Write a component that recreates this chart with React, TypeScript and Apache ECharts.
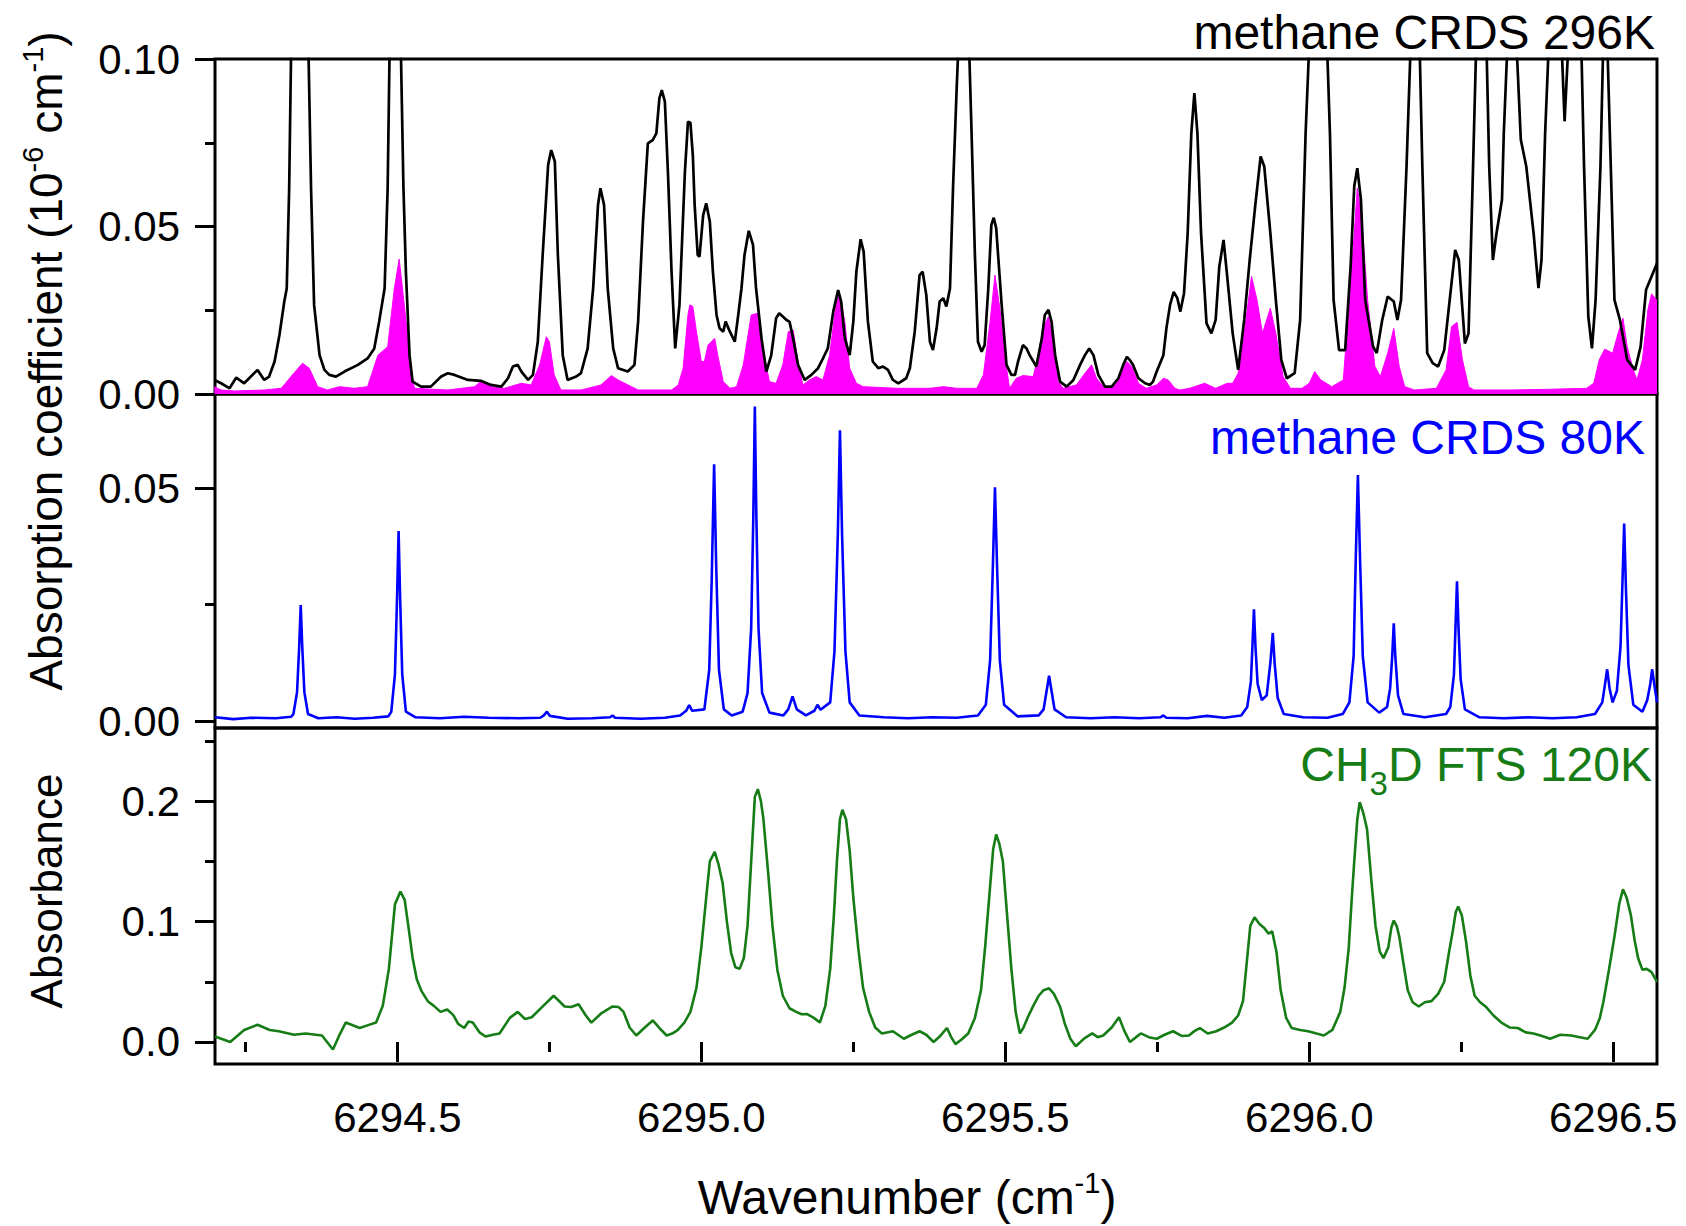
import { useEffect, useRef } from 'react'
import * as echarts from 'echarts'

const FONT = '"Liberation Sans", Arial, Helvetica, sans-serif'

// wavenumber axis (cm-1)
const X_MIN = 6294.2
const X_MAX = 6296.572
const xMajor = [6294.5, 6295.0, 6295.5, 6296.0, 6296.5]
const xMinor = [6294.25, 6294.75, 6295.25, 6295.75, 6296.25]

// y tick values per panel
const topMajor = [0, 0.05, 0.1]
const topMinor = [0.025, 0.075]
const midMajor = [0, 0.05]
const midMinor = [0.025]
const botMajor = [0, 0.1, 0.2]
const botMinor = [0.05, 0.15, 0.25]

// methane CRDS 296K (black), [wavenumber, 1e-6 cm-1]; peaks above 0.1 run off scale
const crds296: [number, number][] = [
  [6294.199, 0.0042], [6294.21, 0.0032], [6294.224, 0.0017], [6294.235, 0.0049], [6294.248, 0.0032],
  [6294.27, 0.0072], [6294.281, 0.0042], [6294.289, 0.0052], [6294.298, 0.0097], [6294.306, 0.0176],
  [6294.314, 0.0276], [6294.318, 0.0315], [6294.322, 0.0614], [6294.325, 0.1], [6294.339, 0.26],
  [6294.354, 0.1], [6294.358, 0.0614], [6294.363, 0.0266], [6294.372, 0.0116], [6294.38, 0.0072],
  [6294.388, 0.0057], [6294.399, 0.0052], [6294.413, 0.0067], [6294.435, 0.0087], [6294.451, 0.0106],
  [6294.462, 0.0136], [6294.47, 0.0216], [6294.479, 0.0315], [6294.484, 0.0614], [6294.487, 0.1],
  [6294.497, 0.3], [6294.506, 0.1], [6294.51, 0.0614], [6294.514, 0.0365], [6294.52, 0.0116],
  [6294.525, 0.0037], [6294.539, 0.0022], [6294.555, 0.0022], [6294.572, 0.0052], [6294.583, 0.0062],
  [6294.594, 0.0057], [6294.616, 0.0042], [6294.638, 0.0039], [6294.654, 0.0027], [6294.671, 0.0022],
  [6294.682, 0.0047], [6294.69, 0.0082], [6294.698, 0.0087], [6294.704, 0.0067], [6294.715, 0.0042],
  [6294.723, 0.0057], [6294.731, 0.0156], [6294.739, 0.0415], [6294.748, 0.0684], [6294.753, 0.0728],
  [6294.759, 0.0694], [6294.764, 0.0415], [6294.772, 0.0116], [6294.78, 0.0042], [6294.794, 0.0052],
  [6294.802, 0.0062], [6294.813, 0.0136], [6294.822, 0.0315], [6294.83, 0.0564], [6294.834, 0.0614],
  [6294.84, 0.0564], [6294.846, 0.0315], [6294.855, 0.0136], [6294.863, 0.0077], [6294.879, 0.0067],
  [6294.89, 0.0087], [6294.896, 0.0216], [6294.904, 0.0514], [6294.912, 0.0748], [6294.92, 0.0758],
  [6294.926, 0.0778], [6294.931, 0.0883], [6294.935, 0.0907], [6294.94, 0.0873], [6294.945, 0.0664],
  [6294.951, 0.0365], [6294.957, 0.0136], [6294.964, 0.0266], [6294.973, 0.0664], [6294.978, 0.0813],
  [6294.982, 0.081], [6294.986, 0.0713], [6294.989, 0.0564], [6294.994, 0.0415], [6294.997, 0.041],
  [6295.003, 0.0534], [6295.008, 0.0569], [6295.014, 0.0514], [6295.019, 0.0365], [6295.025, 0.0236],
  [6295.03, 0.0196], [6295.036, 0.0186], [6295.04, 0.0216], [6295.047, 0.0186], [6295.055, 0.0156],
  [6295.06, 0.0226], [6295.066, 0.0315], [6295.071, 0.0415], [6295.078, 0.0487], [6295.085, 0.0445],
  [6295.09, 0.0315], [6295.099, 0.0166], [6295.107, 0.0067], [6295.115, 0.0116], [6295.123, 0.0226],
  [6295.128, 0.0241], [6295.134, 0.0231], [6295.14, 0.0221], [6295.145, 0.0216], [6295.151, 0.0166],
  [6295.159, 0.0087], [6295.17, 0.0042], [6295.181, 0.0057], [6295.192, 0.0077], [6295.2, 0.0106],
  [6295.208, 0.0136], [6295.217, 0.0246], [6295.225, 0.031], [6295.23, 0.0276], [6295.236, 0.0166],
  [6295.244, 0.0116], [6295.25, 0.0216], [6295.255, 0.0365], [6295.262, 0.0462], [6295.267, 0.0425],
  [6295.274, 0.0216], [6295.282, 0.0097], [6295.291, 0.0077], [6295.299, 0.0082], [6295.307, 0.0072],
  [6295.315, 0.0042], [6295.324, 0.0032], [6295.337, 0.0047], [6295.343, 0.0077], [6295.351, 0.0186],
  [6295.359, 0.0355], [6295.364, 0.0365], [6295.37, 0.0296], [6295.376, 0.0156], [6295.381, 0.0131],
  [6295.387, 0.0196], [6295.392, 0.0276], [6295.398, 0.0286], [6295.403, 0.0261], [6295.409, 0.0315],
  [6295.414, 0.0614], [6295.42, 0.0912], [6295.422, 0.1], [6295.431, 0.22], [6295.441, 0.1],
  [6295.444, 0.0813], [6295.45, 0.0415], [6295.455, 0.0156], [6295.461, 0.0126], [6295.466, 0.0146],
  [6295.472, 0.0315], [6295.477, 0.0504], [6295.481, 0.0526], [6295.485, 0.0495], [6295.494, 0.0266],
  [6295.502, 0.0087], [6295.51, 0.0057], [6295.516, 0.0057], [6295.521, 0.0097], [6295.529, 0.0146],
  [6295.535, 0.0136], [6295.54, 0.0116], [6295.551, 0.0082], [6295.56, 0.0166], [6295.565, 0.0236],
  [6295.571, 0.0251], [6295.576, 0.0216], [6295.582, 0.0116], [6295.59, 0.0037], [6295.601, 0.0022],
  [6295.612, 0.0042], [6295.623, 0.0087], [6295.631, 0.0116], [6295.638, 0.0136], [6295.645, 0.0116],
  [6295.653, 0.0057], [6295.664, 0.0022], [6295.675, 0.0022], [6295.686, 0.0047], [6295.694, 0.0087],
  [6295.7, 0.0111], [6295.705, 0.0101], [6295.71, 0.0087], [6295.719, 0.0047], [6295.73, 0.0032],
  [6295.738, 0.0027], [6295.743, 0.0037], [6295.749, 0.0067], [6295.76, 0.0116], [6295.765, 0.0196],
  [6295.771, 0.0266], [6295.777, 0.0305], [6295.783, 0.0286], [6295.788, 0.0246], [6295.794, 0.0301],
  [6295.8, 0.048], [6295.806, 0.0779], [6295.811, 0.0898], [6295.816, 0.0779], [6295.822, 0.048],
  [6295.831, 0.0211], [6295.839, 0.0181], [6295.846, 0.0221], [6295.852, 0.038], [6295.859, 0.046],
  [6295.865, 0.0351], [6295.874, 0.0181], [6295.883, 0.0072], [6295.893, 0.0221], [6295.902, 0.04],
  [6295.911, 0.056], [6295.92, 0.0709], [6295.926, 0.0679], [6295.936, 0.048], [6295.945, 0.0281],
  [6295.954, 0.0102], [6295.963, 0.0047], [6295.976, 0.0062], [6295.985, 0.0221], [6295.994, 0.0779],
  [6295.999, 0.1], [6296.014, 0.3], [6296.03, 0.1], [6296.034, 0.0779], [6296.04, 0.0281],
  [6296.049, 0.0131], [6296.059, 0.0131], [6296.068, 0.038], [6296.074, 0.062], [6296.079, 0.0674],
  [6296.085, 0.058], [6296.092, 0.0281], [6296.105, 0.0141], [6296.111, 0.0122], [6296.12, 0.0221],
  [6296.129, 0.0291], [6296.139, 0.0276], [6296.145, 0.0221], [6296.151, 0.0281], [6296.16, 0.0679],
  [6296.166, 0.1], [6296.174, 0.16], [6296.182, 0.1], [6296.186, 0.0679], [6296.194, 0.0122],
  [6296.203, 0.0092], [6296.212, 0.0082], [6296.222, 0.0131], [6296.231, 0.0281], [6296.24, 0.043],
  [6296.246, 0.04], [6296.256, 0.0151], [6296.262, 0.0181], [6296.268, 0.058], [6296.274, 0.1],
  [6296.283, 0.2], [6296.292, 0.1], [6296.296, 0.0679], [6296.302, 0.04], [6296.308, 0.048],
  [6296.317, 0.058], [6296.32, 0.0779], [6296.325, 0.1], [6296.333, 0.2], [6296.342, 0.1],
  [6296.348, 0.0759], [6296.357, 0.0679], [6296.369, 0.048], [6296.377, 0.0316], [6296.382, 0.04],
  [6296.388, 0.0779], [6296.393, 0.1], [6296.404, 0.18], [6296.416, 0.1], [6296.42, 0.0814],
  [6296.425, 0.1], [6296.436, 0.2], [6296.448, 0.1], [6296.452, 0.0679], [6296.459, 0.0231],
  [6296.465, 0.0136], [6296.471, 0.0281], [6296.479, 0.0679], [6296.483, 0.1], [6296.487, 0.13],
  [6296.491, 0.1], [6296.496, 0.0679], [6296.502, 0.0281], [6296.511, 0.0221], [6296.523, 0.0102],
  [6296.536, 0.0072], [6296.545, 0.0141], [6296.554, 0.0311], [6296.563, 0.0351], [6296.572, 0.039],
]

// filled magenta spectrum in the top panel
const magenta296: [number, number][] = [
  [6294.199, 0.0022], [6294.21, 0.0012], [6294.232, 0.0009], [6294.281, 0.0012], [6294.309, 0.0017],
  [6294.325, 0.0052], [6294.344, 0.0092], [6294.355, 0.0077], [6294.369, 0.0022], [6294.385, 0.0012],
  [6294.405, 0.0022], [6294.429, 0.0017], [6294.451, 0.0022], [6294.468, 0.0116], [6294.484, 0.0141],
  [6294.495, 0.0315], [6294.503, 0.0403], [6294.512, 0.0256], [6294.523, 0.0067], [6294.528, 0.0017],
  [6294.583, 0.0012], [6294.627, 0.0022], [6294.638, 0.0039], [6294.654, 0.0022], [6294.676, 0.0017],
  [6294.704, 0.0032], [6294.72, 0.0027], [6294.734, 0.0087], [6294.745, 0.0171], [6294.75, 0.0156],
  [6294.758, 0.0057], [6294.769, 0.0012], [6294.802, 0.0012], [6294.835, 0.0027], [6294.852, 0.0055],
  [6294.863, 0.0042], [6294.885, 0.0022], [6294.896, 0.0012], [6294.951, 0.0012], [6294.962, 0.0027],
  [6294.97, 0.0077], [6294.978, 0.0236], [6294.981, 0.0266], [6294.986, 0.0261], [6294.992, 0.0186],
  [6295.0, 0.0097], [6295.005, 0.0097], [6295.011, 0.0146], [6295.022, 0.0166], [6295.027, 0.0116],
  [6295.036, 0.0037], [6295.047, 0.0017], [6295.058, 0.0022], [6295.069, 0.0087], [6295.082, 0.0236],
  [6295.093, 0.0241], [6295.101, 0.0136], [6295.112, 0.0037], [6295.123, 0.0032], [6295.134, 0.0087],
  [6295.143, 0.0186], [6295.151, 0.0191], [6295.159, 0.0097], [6295.167, 0.0027], [6295.178, 0.0042],
  [6295.189, 0.0052], [6295.2, 0.0042], [6295.211, 0.0116], [6295.222, 0.0276], [6295.228, 0.0296],
  [6295.236, 0.0216], [6295.244, 0.0077], [6295.255, 0.0032], [6295.266, 0.0022], [6295.321, 0.0017],
  [6295.376, 0.0017], [6295.398, 0.0022], [6295.42, 0.0017], [6295.453, 0.0017], [6295.464, 0.0057],
  [6295.475, 0.0216], [6295.483, 0.0355], [6295.491, 0.0256], [6295.499, 0.0116], [6295.507, 0.0017],
  [6295.518, 0.0047], [6295.529, 0.0055], [6295.546, 0.0052], [6295.554, 0.0116], [6295.562, 0.0196],
  [6295.571, 0.0231], [6295.579, 0.0156], [6295.587, 0.0037], [6295.595, 0.0017], [6295.617, 0.0027],
  [6295.631, 0.0062], [6295.642, 0.0087], [6295.65, 0.0047], [6295.661, 0.0022], [6295.672, 0.0017],
  [6295.683, 0.0032], [6295.694, 0.0077], [6295.7, 0.0097], [6295.708, 0.0082], [6295.719, 0.0032],
  [6295.732, 0.0017], [6295.749, 0.0027], [6295.76, 0.0047], [6295.768, 0.0042], [6295.779, 0.0017],
  [6295.787, 0.0012], [6295.803, 0.0017], [6295.828, 0.0032], [6295.846, 0.0017], [6295.865, 0.0032],
  [6295.874, 0.0032], [6295.883, 0.0062], [6295.893, 0.0181], [6295.905, 0.0351], [6295.914, 0.0281],
  [6295.923, 0.0181], [6295.936, 0.0256], [6295.945, 0.0181], [6295.957, 0.0052], [6295.969, 0.0017],
  [6295.988, 0.0017], [6296.0, 0.0032], [6296.009, 0.0067], [6296.019, 0.0042], [6296.037, 0.0022],
  [6296.056, 0.0042], [6296.065, 0.0261], [6296.074, 0.048], [6296.079, 0.0615], [6296.086, 0.053],
  [6296.096, 0.0281], [6296.108, 0.0082], [6296.117, 0.0052], [6296.129, 0.0122], [6296.139, 0.0196],
  [6296.148, 0.0082], [6296.157, 0.0022], [6296.173, 0.0012], [6296.209, 0.0017], [6296.225, 0.0072],
  [6296.234, 0.0201], [6296.243, 0.0214], [6296.252, 0.0102], [6296.262, 0.0022], [6296.271, 0.0012],
  [6296.332, 0.0012], [6296.394, 0.0014], [6296.456, 0.0017], [6296.468, 0.0032], [6296.477, 0.0102],
  [6296.486, 0.0134], [6296.499, 0.0122], [6296.508, 0.0181], [6296.516, 0.0226], [6296.523, 0.0141],
  [6296.533, 0.0072], [6296.539, 0.0042], [6296.548, 0.0102], [6296.557, 0.0251], [6296.563, 0.0299],
  [6296.572, 0.0279],
]

// methane CRDS 80K (blue)
const crds80: [number, number][] = [
  [6294.2, 0.0008], [6294.23, 0.0004], [6294.26, 0.0007], [6294.3, 0.0006], [6294.325, 0.0009],
  [6294.329, 0.0015], [6294.335, 0.0062], [6294.3385, 0.016], [6294.341, 0.0249], [6294.3435, 0.016],
  [6294.347, 0.0062], [6294.353, 0.0015], [6294.37, 0.0006], [6294.4, 0.0008], [6294.43, 0.0005],
  [6294.46, 0.0007], [6294.485, 0.001], [6294.49, 0.002], [6294.496, 0.01], [6294.4995, 0.0265],
  [6294.502, 0.0408], [6294.5045, 0.0265], [6294.508, 0.01], [6294.514, 0.002], [6294.53, 0.0008],
  [6294.57, 0.0006], [6294.61, 0.0009], [6294.65, 0.0007], [6294.7, 0.0006], [6294.735, 0.0007],
  [6294.741, 0.0012], [6294.746, 0.002], [6294.751, 0.0011], [6294.78, 0.0005], [6294.82, 0.0006],
  [6294.85, 0.0008], [6294.854, 0.0012], [6294.858, 0.0007], [6294.9, 0.0005], [6294.94, 0.0007],
  [6294.965, 0.0012], [6294.975, 0.0022], [6294.98, 0.0034], [6294.985, 0.0022], [6295.005, 0.0025],
  [6295.013, 0.011], [6295.017, 0.03], [6295.021, 0.0551], [6295.0245, 0.033], [6295.029, 0.011],
  [6295.037, 0.0025], [6295.05, 0.0012], [6295.068, 0.002], [6295.076, 0.006], [6295.082, 0.02],
  [6295.0855, 0.044], [6295.088, 0.0675], [6295.0905, 0.044], [6295.094, 0.02], [6295.1, 0.006],
  [6295.112, 0.0018], [6295.135, 0.0012], [6295.143, 0.0025], [6295.15, 0.0053], [6295.157, 0.0025],
  [6295.172, 0.0012], [6295.186, 0.0022], [6295.191, 0.0035], [6295.196, 0.0024], [6295.212, 0.004],
  [6295.219, 0.015], [6295.2245, 0.04], [6295.228, 0.0624], [6295.2315, 0.04], [6295.237, 0.015],
  [6295.244, 0.004], [6295.26, 0.0012], [6295.3, 0.0008], [6295.34, 0.0006], [6295.38, 0.0008],
  [6295.42, 0.0007], [6295.455, 0.0012], [6295.468, 0.0035], [6295.475, 0.013], [6295.4795, 0.033],
  [6295.483, 0.0502], [6295.4865, 0.033], [6295.491, 0.013], [6295.498, 0.0035], [6295.52, 0.001],
  [6295.555, 0.0012], [6295.563, 0.0025], [6295.568, 0.0065], [6295.572, 0.0097], [6295.576, 0.0065],
  [6295.581, 0.0025], [6295.6, 0.0008], [6295.64, 0.0006], [6295.68, 0.0008], [6295.72, 0.0006],
  [6295.755, 0.0008], [6295.76, 0.0012], [6295.765, 0.0007], [6295.8, 0.0006], [6295.832, 0.0011],
  [6295.86, 0.0007], [6295.888, 0.0012], [6295.898, 0.003], [6295.904, 0.0085], [6295.9065, 0.016],
  [6295.909, 0.024], [6295.9115, 0.016], [6295.915, 0.008], [6295.922, 0.0045], [6295.93, 0.0055],
  [6295.936, 0.0125], [6295.94, 0.0189], [6295.943, 0.0125], [6295.948, 0.005], [6295.958, 0.0015],
  [6295.99, 0.0008], [6296.03, 0.0007], [6296.055, 0.0015], [6296.066, 0.004], [6296.073, 0.014],
  [6296.0765, 0.035], [6296.08, 0.0528], [6296.0835, 0.035], [6296.088, 0.014], [6296.096, 0.004],
  [6296.115, 0.0018], [6296.128, 0.003], [6296.133, 0.007], [6296.1365, 0.014], [6296.139, 0.021],
  [6296.1415, 0.014], [6296.146, 0.0055], [6296.155, 0.0015], [6296.19, 0.0008], [6296.225, 0.0015],
  [6296.232, 0.003], [6296.238, 0.01], [6296.2405, 0.02], [6296.243, 0.03], [6296.2455, 0.02],
  [6296.249, 0.009], [6296.256, 0.0025], [6296.28, 0.0008], [6296.32, 0.0006], [6296.36, 0.0008],
  [6296.4, 0.0006], [6296.44, 0.0008], [6296.47, 0.0015], [6296.482, 0.004], [6296.486, 0.0075],
  [6296.49, 0.0111], [6296.494, 0.007], [6296.499, 0.004], [6296.506, 0.0065], [6296.512, 0.016],
  [6296.515, 0.029], [6296.518, 0.0424], [6296.521, 0.028], [6296.525, 0.012], [6296.533, 0.0035],
  [6296.548, 0.002], [6296.556, 0.0045], [6296.561, 0.008], [6296.564, 0.0111], [6296.568, 0.0075],
  [6296.572, 0.004],
]

// CH3D FTS 120K (green), absorbance
const fts120: [number, number][] = [
  [6294.2, 0.0045], [6294.225, 0.0], [6294.248, 0.01], [6294.27, 0.0143], [6294.29, 0.01],
  [6294.305, 0.0089], [6294.33, 0.006], [6294.349, 0.0071], [6294.376, 0.0054], [6294.394, -0.0063],
  [6294.404, 0.005], [6294.415, 0.0161], [6294.438, 0.0116], [6294.452, 0.014], [6294.465, 0.0161],
  [6294.476, 0.03], [6294.486, 0.0607], [6294.496, 0.1143], [6294.505, 0.125], [6294.512, 0.118],
  [6294.518, 0.0964], [6294.525, 0.07], [6294.532, 0.0518], [6294.54, 0.042], [6294.55, 0.0339],
  [6294.56, 0.03], [6294.571, 0.025], [6294.582, 0.027], [6294.592, 0.0223], [6294.6, 0.015],
  [6294.61, 0.0116], [6294.617, 0.017], [6294.624, 0.0161], [6294.635, 0.008], [6294.645, 0.0045],
  [6294.657, 0.006], [6294.668, 0.0071], [6294.685, 0.02], [6294.698, 0.025], [6294.71, 0.019],
  [6294.721, 0.0205], [6294.74, 0.03], [6294.757, 0.0384], [6294.766, 0.034], [6294.775, 0.0295],
  [6294.786, 0.029], [6294.798, 0.0313], [6294.81, 0.022], [6294.819, 0.0161], [6294.836, 0.024],
  [6294.854, 0.0295], [6294.864, 0.029], [6294.872, 0.025], [6294.882, 0.012], [6294.893, 0.0054],
  [6294.907, 0.012], [6294.92, 0.0179], [6294.932, 0.011], [6294.943, 0.0054], [6294.952, 0.007],
  [6294.961, 0.0098], [6294.972, 0.016], [6294.982, 0.025], [6294.992, 0.045], [6295.0, 0.0786],
  [6295.008, 0.12], [6295.014, 0.15], [6295.022, 0.158], [6295.028, 0.148], [6295.035, 0.1321],
  [6295.042, 0.1], [6295.049, 0.0741], [6295.056, 0.062], [6295.063, 0.0607], [6295.07, 0.07],
  [6295.076, 0.0964], [6295.082, 0.15], [6295.088, 0.2036], [6295.093, 0.21], [6295.098, 0.2],
  [6295.102, 0.1857], [6295.11, 0.14], [6295.117, 0.0964], [6295.125, 0.06], [6295.134, 0.0384],
  [6295.145, 0.028], [6295.156, 0.025], [6295.165, 0.023], [6295.174, 0.0232], [6295.185, 0.02],
  [6295.195, 0.0161], [6295.204, 0.03], [6295.212, 0.0607], [6295.218, 0.105], [6295.223, 0.15],
  [6295.228, 0.185], [6295.232, 0.1929], [6295.238, 0.185], [6295.244, 0.1589], [6295.25, 0.12],
  [6295.258, 0.0786], [6295.266, 0.045], [6295.276, 0.025], [6295.286, 0.012], [6295.297, 0.0071],
  [6295.315, 0.0089], [6295.333, 0.0027], [6295.346, 0.006], [6295.359, 0.0089], [6295.37, 0.006],
  [6295.382, 0.0], [6295.393, 0.005], [6295.404, 0.0116], [6295.411, 0.004], [6295.418, -0.0018],
  [6295.428, 0.002], [6295.439, 0.0071], [6295.45, 0.02], [6295.46, 0.0429], [6295.467, 0.08],
  [6295.474, 0.1232], [6295.48, 0.16], [6295.485, 0.1723], [6295.49, 0.165], [6295.496, 0.15],
  [6295.503, 0.105], [6295.51, 0.0607], [6295.517, 0.025], [6295.524, 0.0071], [6295.53, 0.012],
  [6295.537, 0.0205], [6295.546, 0.03], [6295.555, 0.0384], [6295.563, 0.043], [6295.572, 0.0446],
  [6295.58, 0.04], [6295.59, 0.0295], [6295.598, 0.015], [6295.607, 0.0027], [6295.616, -0.0036],
  [6295.63, 0.003], [6295.643, 0.0071], [6295.652, 0.004], [6295.661, 0.0054], [6295.675, 0.012],
  [6295.687, 0.0205], [6295.696, 0.009], [6295.705, 0.0], [6295.715, 0.004], [6295.723, 0.0071],
  [6295.736, 0.004], [6295.749, 0.0027], [6295.762, 0.006], [6295.776, 0.0089], [6295.79, 0.005],
  [6295.802, 0.0054], [6295.811, 0.009], [6295.82, 0.0116], [6295.833, 0.007], [6295.847, 0.0089],
  [6295.86, 0.012], [6295.873, 0.0161], [6295.883, 0.022], [6295.891, 0.0339], [6295.897, 0.065],
  [6295.903, 0.0964], [6295.91, 0.1036], [6295.918, 0.098], [6295.926, 0.0946], [6295.933, 0.09],
  [6295.939, 0.092], [6295.946, 0.075], [6295.953, 0.0429], [6295.962, 0.02], [6295.971, 0.0116],
  [6295.985, 0.01], [6295.998, 0.0089], [6296.012, 0.007], [6296.024, 0.0054], [6296.038, 0.01],
  [6296.051, 0.025], [6296.058, 0.045], [6296.065, 0.0786], [6296.07, 0.12], [6296.074, 0.15],
  [6296.079, 0.185], [6296.083, 0.1991], [6296.089, 0.19], [6296.095, 0.1768], [6296.102, 0.135],
  [6296.109, 0.0964], [6296.116, 0.075], [6296.122, 0.0696], [6296.13, 0.0786], [6296.135, 0.095],
  [6296.139, 0.1009], [6296.144, 0.096], [6296.148, 0.0875], [6296.155, 0.065], [6296.162, 0.0429],
  [6296.17, 0.033], [6296.18, 0.0295], [6296.19, 0.033], [6296.201, 0.0339], [6296.212, 0.04],
  [6296.222, 0.05], [6296.23, 0.075], [6296.236, 0.092], [6296.241, 0.108], [6296.245, 0.1125],
  [6296.251, 0.105], [6296.258, 0.083], [6296.265, 0.055], [6296.272, 0.0384], [6296.281, 0.033],
  [6296.29, 0.0295], [6296.303, 0.022], [6296.316, 0.0161], [6296.33, 0.012], [6296.343, 0.0116],
  [6296.356, 0.008], [6296.369, 0.0071], [6296.383, 0.005], [6296.396, 0.0027], [6296.413, 0.006],
  [6296.431, 0.0054], [6296.445, 0.004], [6296.458, 0.0027], [6296.47, 0.01], [6296.478, 0.02],
  [6296.484, 0.0339], [6296.493, 0.06], [6296.502, 0.0875], [6296.51, 0.115], [6296.516, 0.1268],
  [6296.522, 0.12], [6296.529, 0.1054], [6296.535, 0.085], [6296.541, 0.0696], [6296.548, 0.06],
  [6296.555, 0.0607], [6296.563, 0.058], [6296.572, 0.05],
]

const tickLine = { color: '#000', width: 3 }

function xAxisFor(grid: number, ticks: number[], len: number, labels: boolean) {
  return {
    type: 'value',
    gridIndex: grid,
    position: 'bottom',
    min: X_MIN,
    max: X_MAX,
    show: grid === 2,
    axisLine: { show: false },
    splitLine: { show: false },
    axisTick: { show: true, length: len, lineStyle: tickLine, customValues: ticks },
    axisLabel: {
      show: labels,
      customValues: ticks,
      margin: 32,
      fontSize: 42,
      fontFamily: FONT,
      color: '#000',
      formatter: (v: number) => v.toFixed(1),
    },
  }
}

function yAxisFor(grid: number, min: number, max: number, ticks: number[], len: number, digits: number) {
  return {
    type: 'value',
    gridIndex: grid,
    position: 'left',
    min,
    max,
    axisLine: { show: false },
    splitLine: { show: false },
    axisTick: { show: true, length: len, lineStyle: tickLine, customValues: ticks },
    axisLabel: {
      show: digits >= 0,
      customValues: ticks,
      margin: 35,
      fontSize: 42,
      fontFamily: FONT,
      color: '#000',
      formatter: (v: number) => v.toFixed(Math.max(digits, 0)),
    },
  }
}

const gridBox = { left: 215, width: 1442, show: true, borderColor: '#000', borderWidth: 3, backgroundColor: 'transparent' }

const GREEN = '#167c16'

export default function App() {
  const chartEl = useRef<HTMLDivElement>(null)

  useEffect(() => {
    const el = chartEl.current
    if (!el) return
    const chart = echarts.init(el, null, { renderer: 'svg' })

    const sup = { fontSize: 29, fontFamily: FONT, verticalAlign: 'top', lineHeight: 29 }
    const right = { align: 'right', textAlign: 'right', verticalAlign: 'middle', textVerticalAlign: 'middle' }
    const centre = { align: 'center', textAlign: 'center', verticalAlign: 'middle', textVerticalAlign: 'middle' }

    const option = {
      animation: false,
      backgroundColor: '#fff',
      grid: [
        { ...gridBox, top: 59, height: 335 },
        { ...gridBox, top: 394, height: 334 },
        { ...gridBox, top: 728, height: 336 },
      ],
      xAxis: [
        xAxisFor(0, xMajor, 20, false),
        xAxisFor(1, xMajor, 20, false),
        xAxisFor(2, xMajor, 20, true),
        xAxisFor(2, xMinor, 10, false),
      ],
      yAxis: [
        yAxisFor(0, 0, 0.1, topMajor, 20, 2),
        yAxisFor(0, 0, 0.1, topMinor, 10, -1),
        yAxisFor(1, -0.0015, 0.0702, midMajor, 20, 2),
        yAxisFor(1, -0.0015, 0.0702, midMinor, 10, -1),
        yAxisFor(2, -0.0183, 0.2608, botMajor, 20, 1),
        yAxisFor(2, -0.0183, 0.2608, botMinor, 10, -1),
      ],
      series: [
        {
          type: 'line',
          xAxisIndex: 0,
          yAxisIndex: 0,
          data: magenta296,
          symbol: 'none',
          lineStyle: { color: '#ff00ff', width: 1 },
          areaStyle: { color: '#ff00ff', opacity: 1 },
          clip: true,
        },
        {
          type: 'line',
          xAxisIndex: 0,
          yAxisIndex: 0,
          data: crds296,
          symbol: 'none',
          lineStyle: { color: '#000', width: 2.7 },
          clip: true,
        },
        {
          type: 'line',
          xAxisIndex: 1,
          yAxisIndex: 2,
          data: crds80,
          symbol: 'none',
          lineStyle: { color: '#0000ff', width: 2.6 },
          clip: true,
        },
        {
          type: 'line',
          xAxisIndex: 2,
          yAxisIndex: 4,
          data: fts120,
          symbol: 'none',
          lineStyle: { color: GREEN, width: 2.6 },
          clip: true,
        },
      ],
      graphic: [
        {
          type: 'text',
          x: 1655,
          y: 32,
          style: { text: 'methane CRDS 296K', fontSize: 48, fontFamily: FONT, fill: '#000', ...right },
        },
        {
          type: 'text',
          x: 1645,
          y: 437,
          style: { text: 'methane CRDS 80K', fontSize: 48, fontFamily: FONT, fill: '#0000ff', ...right },
        },
        {
          type: 'text',
          x: 1652,
          y: 764,
          style: {
            text: 'CH{sub|3}D FTS 120K',
            fontSize: 48,
            fontFamily: FONT,
            fill: GREEN,
            lineHeight: 72,
            ...right,
            rich: { sub: { fontSize: 33, fontFamily: FONT, fill: GREEN, verticalAlign: 'bottom', lineHeight: 33 } },
          },
        },
        {
          type: 'text',
          x: 907,
          y: 1197,
          style: {
            text: 'Wavenumber (cm{sup|-1})',
            fontSize: 48,
            fontFamily: FONT,
            fill: '#000',
            lineHeight: 58,
            ...centre,
            rich: { sup: { ...sup, fill: '#000' } },
          },
        },
        {
          type: 'text',
          x: 46,
          y: 361,
          rotation: Math.PI / 2,
          style: {
            text: 'Absorption coefficient (10{sup|-6} cm{sup|-1})',
            fontSize: 46,
            fontFamily: FONT,
            fill: '#000',
            lineHeight: 56,
            ...centre,
            rich: { sup: { ...sup, fill: '#000' } },
          },
        },
        {
          type: 'text',
          x: 46,
          y: 891,
          rotation: Math.PI / 2,
          style: { text: 'Absorbance', fontSize: 44, fontFamily: FONT, fill: '#000', ...centre },
        },
      ],
    }

    chart.setOption(option as echarts.EChartsOption)
    return () => chart.dispose()
  }, [])

  return (
    <div
      ref={chartEl}
      style={{ position: 'fixed', left: 0, top: 0, width: 1686, height: 1226, background: '#fff' }}
    />
  )
}
